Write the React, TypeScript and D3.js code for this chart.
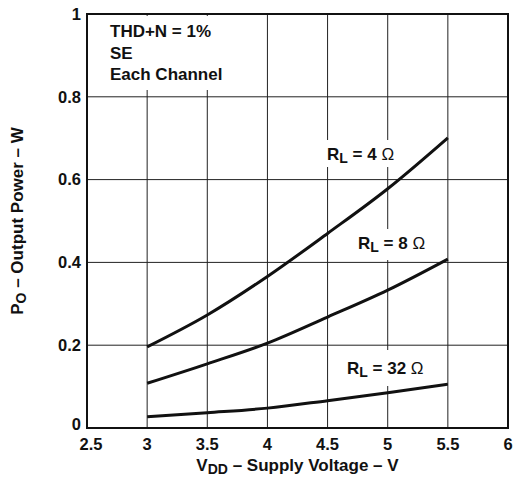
import * as d3 from "d3";

const voltages = [3, 3.5, 4, 4.5, 5, 5.5];
const power4 = [0.196, 0.273, 0.366, 0.47, 0.578, 0.701];
const power8 = [0.108, 0.155, 0.205, 0.268, 0.333, 0.408];
const power32 = [0.027, 0.037, 0.048, 0.066, 0.085, 0.106];

const xTicks = [2.5, 3, 3.5, 4, 4.5, 5, 5.5, 6];
const yTicks = [0, 0.2, 0.4, 0.6, 0.8, 1];
const noteLines = ["THD+N = 1%", "SE", "Each Channel"];

const W = 513;
const H = 477;
const margin = { top: 14, right: 5, bottom: 49, left: 87 };
const font = "'Liberation Sans', Arial, Helvetica, sans-serif";

export default function App() {
  const x = d3.scaleLinear().domain([2.5, 6]).range([margin.left, W - margin.right]);
  const y = d3.scaleLinear().domain([0, 1]).range([H - margin.bottom, margin.top]);

  const line = d3
    .line<number>()
    .x((_, i) => x(voltages[i]))
    .y((d) => y(d))
    .curve(d3.curveMonotoneX);

  const series = [
    { vals: power4, label: "4", lx: 327, ly: 160, box: [305, 140, 97, 27] },
    { vals: power8, label: "8", lx: 358, ly: 249, box: [350, 229, 90, 31] },
    { vals: power32, label: "32", lx: 347, ly: 374, box: [338, 350, 100, 36] },
  ];

  const x0 = x(2.5);
  const x1 = x(6);
  const y0 = y(0);
  const y1 = y(1);

  return (
    <svg
      width={W}
      height={H}
      style={{ position: "absolute", left: 0, top: 0, background: "#fff" }}
      fontFamily={font}
      fontWeight="bold"
    >
      {/* grid */}
      {xTicks.slice(1, -1).map((t) => (
        <line key={"gx" + t} x1={x(t)} x2={x(t)} y1={y0} y2={y1} stroke="#222" strokeWidth={1} />
      ))}
      {yTicks.slice(1, -1).map((t) => (
        <line key={"gy" + t} x1={x0} x2={x1} y1={y(t)} y2={y(t)} stroke="#222" strokeWidth={1} />
      ))}

      {/* note box */}
      <rect x={x0 + 2} y={y1 + 2} width={143} height={74} fill="#fff" />
      {noteLines.map((s, i) => (
        <text key={s} x={110} y={37 + i * 21.5} fontSize={17} fill="#111">
          {s}
        </text>
      ))}

      {/* label backgrounds hide the grid behind them */}
      {series.map((s) => (
        <rect key={"b" + s.label} x={s.box[0]} y={s.box[1]} width={s.box[2]} height={s.box[3]} fill="#fff" />
      ))}

      {/* curves */}
      {series.map((s) => (
        <path key={s.label} d={line(s.vals) || ""} fill="none" stroke="#111" strokeWidth={3} />
      ))}

      {/* curve labels */}
      {series.map((s) => (
        <text key={"l" + s.label} x={s.lx} y={s.ly} fontSize={17} fill="#111">
          R
          <tspan fontSize={14} dy={3}>L</tspan>
          <tspan dy={-3}>{" = " + s.label + " "}</tspan>
          <tspan fontWeight="normal">Ω</tspan>
        </text>
      ))}

      {/* frame */}
      <rect x={x0} y={y1} width={x1 - x0} height={y0 - y1} fill="none" stroke="#111" strokeWidth={2} />

      {/* tick labels */}
      {xTicks.map((t) => (
        <text key={"tx" + t} x={x(t) + (t === 2.5 ? 4 : 0)} y={450} fontSize={16.5} textAnchor="middle" fill="#111">
          {d3.format("~g")(t)}
        </text>
      ))}
      {yTicks.map((t) => (
        <text
          key={"ty" + t}
          x={81}
          y={y(t) + (t === 0 ? -4 : 0)}
          dy="0.35em"
          fontSize={16.5}
          textAnchor="end"
          fill="#111"
        >
          {d3.format("~g")(t)}
        </text>
      ))}

      {/* axis titles */}
      <text x={(x0 + x1) / 2} y={471} fontSize={17} textAnchor="middle" fill="#111">
        V<tspan fontSize={14} dy={3}>DD</tspan>
        <tspan dy={-3}> – Supply Voltage – V</tspan>
      </text>
      <text
        transform={`translate(23, ${(y0 + y1) / 2}) rotate(-90)`}
        fontSize={17}
        textAnchor="middle"
        fill="#111"
      >
        P<tspan fontSize={14} dy={3}>O</tspan>
        <tspan dy={-3}> – Output Power – W</tspan>
      </text>
    </svg>
  );
}
